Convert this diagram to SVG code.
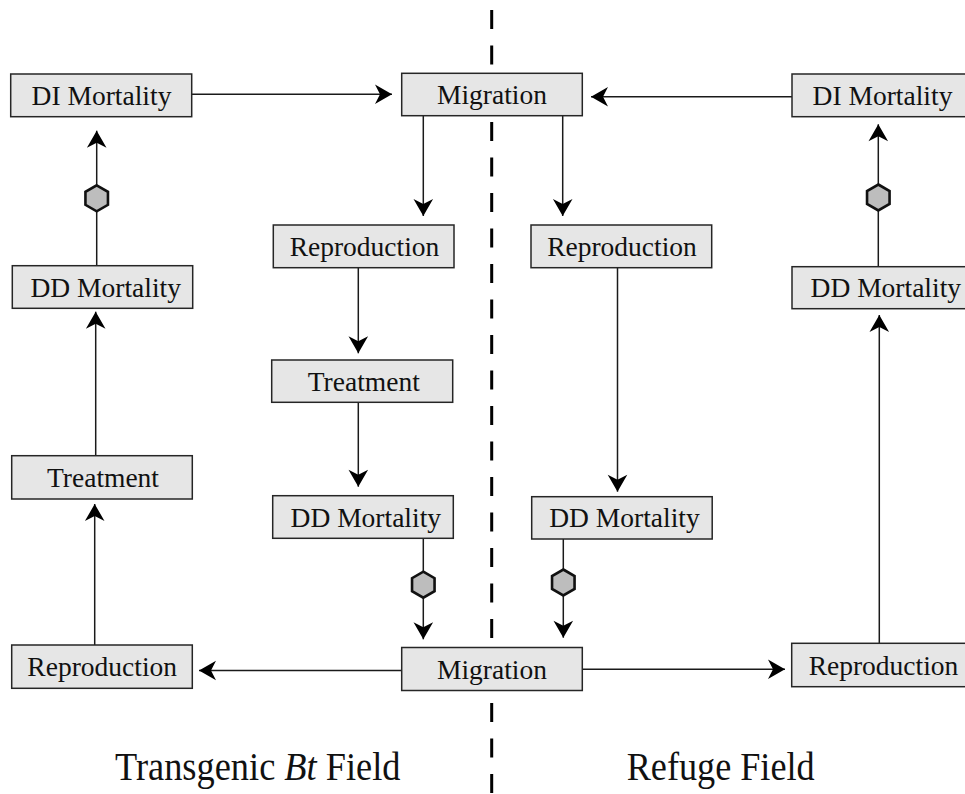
<svg xmlns="http://www.w3.org/2000/svg" width="965" height="794" viewBox="0 0 965 794">
<style>
.box{fill:#e6e6e6;stroke:#262626;stroke-width:1.5}
.lbl{font-family:"Liberation Serif","Times New Roman",serif;font-size:27.5px;fill:#111;text-anchor:middle}
.cap{font-family:"Liberation Serif","Times New Roman",serif;font-size:41px;fill:#111}
.ln{fill:none;stroke:#1a1a1a;stroke-width:1.5}
.lnA{fill:none;stroke:#1a1a1a;stroke-width:1.5;marker-end:url(#ah)}
.dash{fill:none;stroke:#000;stroke-width:3;stroke-dasharray:19 16.5}
.hex{fill:#bdbdbd;stroke:#111;stroke-width:2.6}
</style>
<defs>
<marker id="ah" markerUnits="userSpaceOnUse" markerWidth="22" markerHeight="22" viewBox="-19 -11 22 22" refX="0" refY="0" orient="auto">
<path d="M0,0 L-17,-9.8 L-12,0 L-17,9.8 Z" fill="#000"/>
</marker>
<polygon id="hexshape" points="0,-13 11.26,-6.5 11.26,6.5 0,13 -11.26,6.5 -11.26,-6.5"/>
</defs>

<g id="divider">
<line class="dash" x1="491.7" y1="10" x2="491.7" y2="73"/>
<line class="dash" x1="491.7" y1="122" x2="491.7" y2="647"/>
<line class="dash" x1="491.7" y1="703" x2="491.7" y2="794"/>
</g>

<g id="connectors">
<line class="lnA" x1="191.7" y1="94.3" x2="392" y2="94.3"/>
<line class="lnA" x1="792" y1="96.7" x2="591" y2="96.7"/>
<line class="lnA" x1="423.3" y1="115.7" x2="423.3" y2="216"/>
<line class="lnA" x1="562.7" y1="115.7" x2="562.7" y2="216"/>
<line class="lnA" x1="358.3" y1="267.7" x2="358.3" y2="353.3"/>
<line class="lnA" x1="358.3" y1="402.3" x2="358.3" y2="486.7"/>
<line class="lnA" x1="617.5" y1="267.7" x2="617.5" y2="491.7"/>
<line class="lnA" x1="423.3" y1="538.3" x2="423.3" y2="639.3"/>
<line class="lnA" x1="563.3" y1="539" x2="563.3" y2="637.7"/>
<line class="lnA" x1="401.7" y1="670.5" x2="199" y2="670.5"/>
<line class="lnA" x1="582.3" y1="669.3" x2="785" y2="669.3"/>
<line class="lnA" x1="94.7" y1="645" x2="94.7" y2="504"/>
<line class="lnA" x1="95.7" y1="455.7" x2="95.7" y2="311.7"/>
<line class="lnA" x1="96.7" y1="265.7" x2="96.7" y2="130.7"/>
<line class="lnA" x1="879.3" y1="643.3" x2="879.3" y2="315"/>
<line class="lnA" x1="878.3" y1="266.7" x2="878.3" y2="124.3"/>
<use href="#hexshape" class="hex" x="96.7" y="198.3"/>
<use href="#hexshape" class="hex" x="878.3" y="197.5"/>
<use href="#hexshape" class="hex" x="423.3" y="584.7"/>
<use href="#hexshape" class="hex" x="563.3" y="582.5"/>
</g>

<g id="di-mortality-bt">
<rect class="box" x="10.7" y="74" width="181" height="42.7"/>
<text class="lbl" x="101.5" y="104.8">DI Mortality</text>
</g>
<g id="migration-top">
<rect class="box" x="401.7" y="73.3" width="180.6" height="42.4"/>
<text class="lbl" x="492" y="104">Migration</text>
</g>
<g id="di-mortality-refuge">
<rect class="box" x="792" y="74" width="181" height="42.7"/>
<text class="lbl" x="882.5" y="104.8">DI Mortality</text>
</g>
<g id="reproduction-bt-mid">
<rect class="box" x="273.3" y="225" width="180.7" height="42.7"/>
<text class="lbl" x="364.5" y="255.8">Reproduction</text>
</g>
<g id="reproduction-refuge-mid">
<rect class="box" x="531" y="225" width="180.7" height="42.7"/>
<text class="lbl" x="622" y="255.8">Reproduction</text>
</g>
<g id="dd-mortality-bt-left">
<rect class="box" x="12.3" y="265.7" width="180.4" height="42.6"/>
<text class="lbl" x="105.7" y="296.5">DD Mortality</text>
</g>
<g id="dd-mortality-refuge-right">
<rect class="box" x="792" y="266.7" width="181" height="42"/>
<text class="lbl" x="885.8" y="297.2">DD Mortality</text>
</g>
<g id="treatment-bt-mid">
<rect class="box" x="271.7" y="360" width="181" height="42.3"/>
<text class="lbl" x="363.8" y="390.6">Treatment</text>
</g>
<g id="treatment-bt-left">
<rect class="box" x="11.7" y="455.7" width="180.6" height="43.3"/>
<text class="lbl" x="103" y="486.8">Treatment</text>
</g>
<g id="dd-mortality-bt-mid">
<rect class="box" x="272.7" y="495.7" width="180.6" height="42.6"/>
<text class="lbl" x="365.8" y="526.5">DD Mortality</text>
</g>
<g id="dd-mortality-refuge-mid">
<rect class="box" x="531.7" y="496.7" width="180.5" height="42.3"/>
<text class="lbl" x="624.5" y="527.3">DD Mortality</text>
</g>
<g id="reproduction-bt-bottom">
<rect class="box" x="11.7" y="645" width="180.6" height="43.3"/>
<text class="lbl" x="102.2" y="676.1">Reproduction</text>
</g>
<g id="migration-bottom">
<rect class="box" x="401.7" y="647.5" width="180.6" height="43"/>
<text class="lbl" x="492" y="678.5">Migration</text>
</g>
<g id="reproduction-refuge-bottom">
<rect class="box" x="791.7" y="643.3" width="181" height="43.4"/>
<text class="lbl" x="883.5" y="674.5">Reproduction</text>
</g>

<g id="field-labels">
<text class="cap" transform="translate(115,780) scale(0.887,1)">Transgenic <tspan font-style="italic">Bt</tspan> Field</text>
<text class="cap" transform="translate(626.7,780) scale(0.883,1)">Refuge Field</text>
</g>
</svg>
